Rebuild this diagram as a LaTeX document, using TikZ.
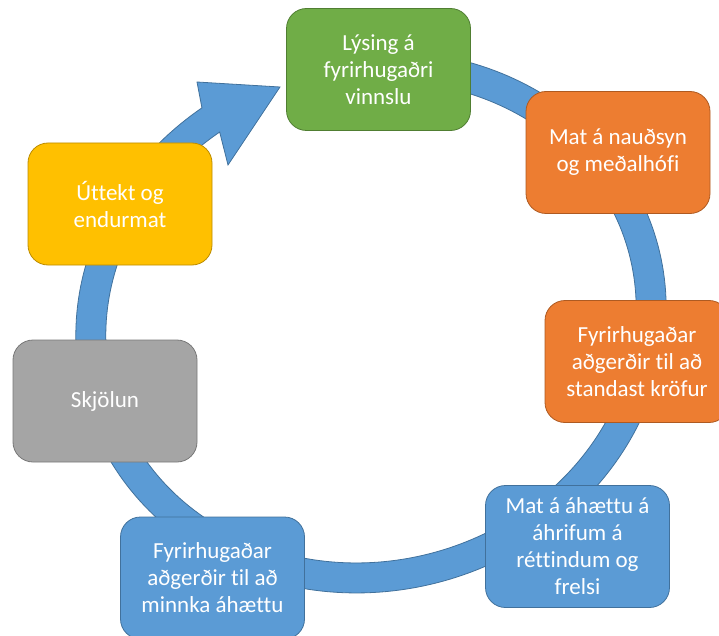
\documentclass[tikz,border=0pt]{standalone}
\usepackage{fontspec}
\setmainfont{Carlito}[Ligatures=NoCommon]
\definecolor{cgreen}{HTML}{70AD47}
\definecolor{cgreenE}{HTML}{507E32}
\definecolor{corange}{HTML}{ED7D31}
\definecolor{corangeE}{HTML}{AE5A21}
\definecolor{cyellow}{HTML}{FFC000}
\definecolor{cyellowE}{HTML}{BC8C00}
\definecolor{cgray}{HTML}{A5A5A5}
\definecolor{cgrayE}{HTML}{787878}
\definecolor{cblue}{HTML}{5B9BD5}
\definecolor{cblueE}{HTML}{41719C}
\begin{document}
\begin{tikzpicture}[x=1pt,y=-1pt,
  box/.style={rectangle, rounded corners=20pt, minimum width=184pt, minimum height=122pt,
    inner sep=0pt, text=white, align=center, line width=0.8pt,
    font=\fontsize{23}{27}\selectfont},
  ring/.style={fill=cblue, draw=cblueE, line width=0.8pt, line join=miter}]
\useasboundingbox (0,0) rectangle (719,636);
\begin{scope}
\clip (0,0) rectangle (719,636);
% circular arrow (tilted ellipse band)
\path[ring]
  plot[domain=-85:248.7, samples=240, variable=\t]
    ({371 + 297*cos(\t)*0.9659 + 269*sin(\t)*0.2588}, {322 - 297*cos(\t)*0.2588 + 269*sin(\t)*0.9659})
  -- (197,82) -- (280,87) -- (228,165)
  -- plot[domain=248.7:-85, samples=240, variable=\t]
    ({371 + 267*cos(\t)*0.9659 + 239*sin(\t)*0.2588}, {322 - 267*cos(\t)*0.2588 + 239*sin(\t)*0.9659})
  -- cycle;
% boxes
\node[box, fill=cgreen, draw=cgreenE] (n1) at (378.5,69.5) {Lýsing á\\fyrirhugaðri\\vinnslu};
\node[box, fill=corange, draw=corangeE] (n2) at (618,152.5) {Mat á nauðsyn\\og meðalhófi};
\node[box, fill=corange, draw=corangeE] (n3) at (637,361.5) {Fyrirhugaðar\\aðgerðir til að\\standast kröfur};
\node[box, fill=cblue, draw=cblueE] (n4) at (577.5,546.5) {Mat á áhættu á\\áhrifum á\\réttindum og\\frelsi};
\node[box, fill=cblue, draw=cblueE] (n5) at (212.5,578) {Fyrirhugaðar\\aðgerðir til að\\minnka áhættu};
\node[box, fill=cgray, draw=cgrayE] (n6) at (105,401) {Skjölun};
\node[box, fill=cyellow, draw=cyellowE] (n7) at (120,204) {Úttekt og\\endurmat};
\end{scope}
\end{tikzpicture}
\end{document}
